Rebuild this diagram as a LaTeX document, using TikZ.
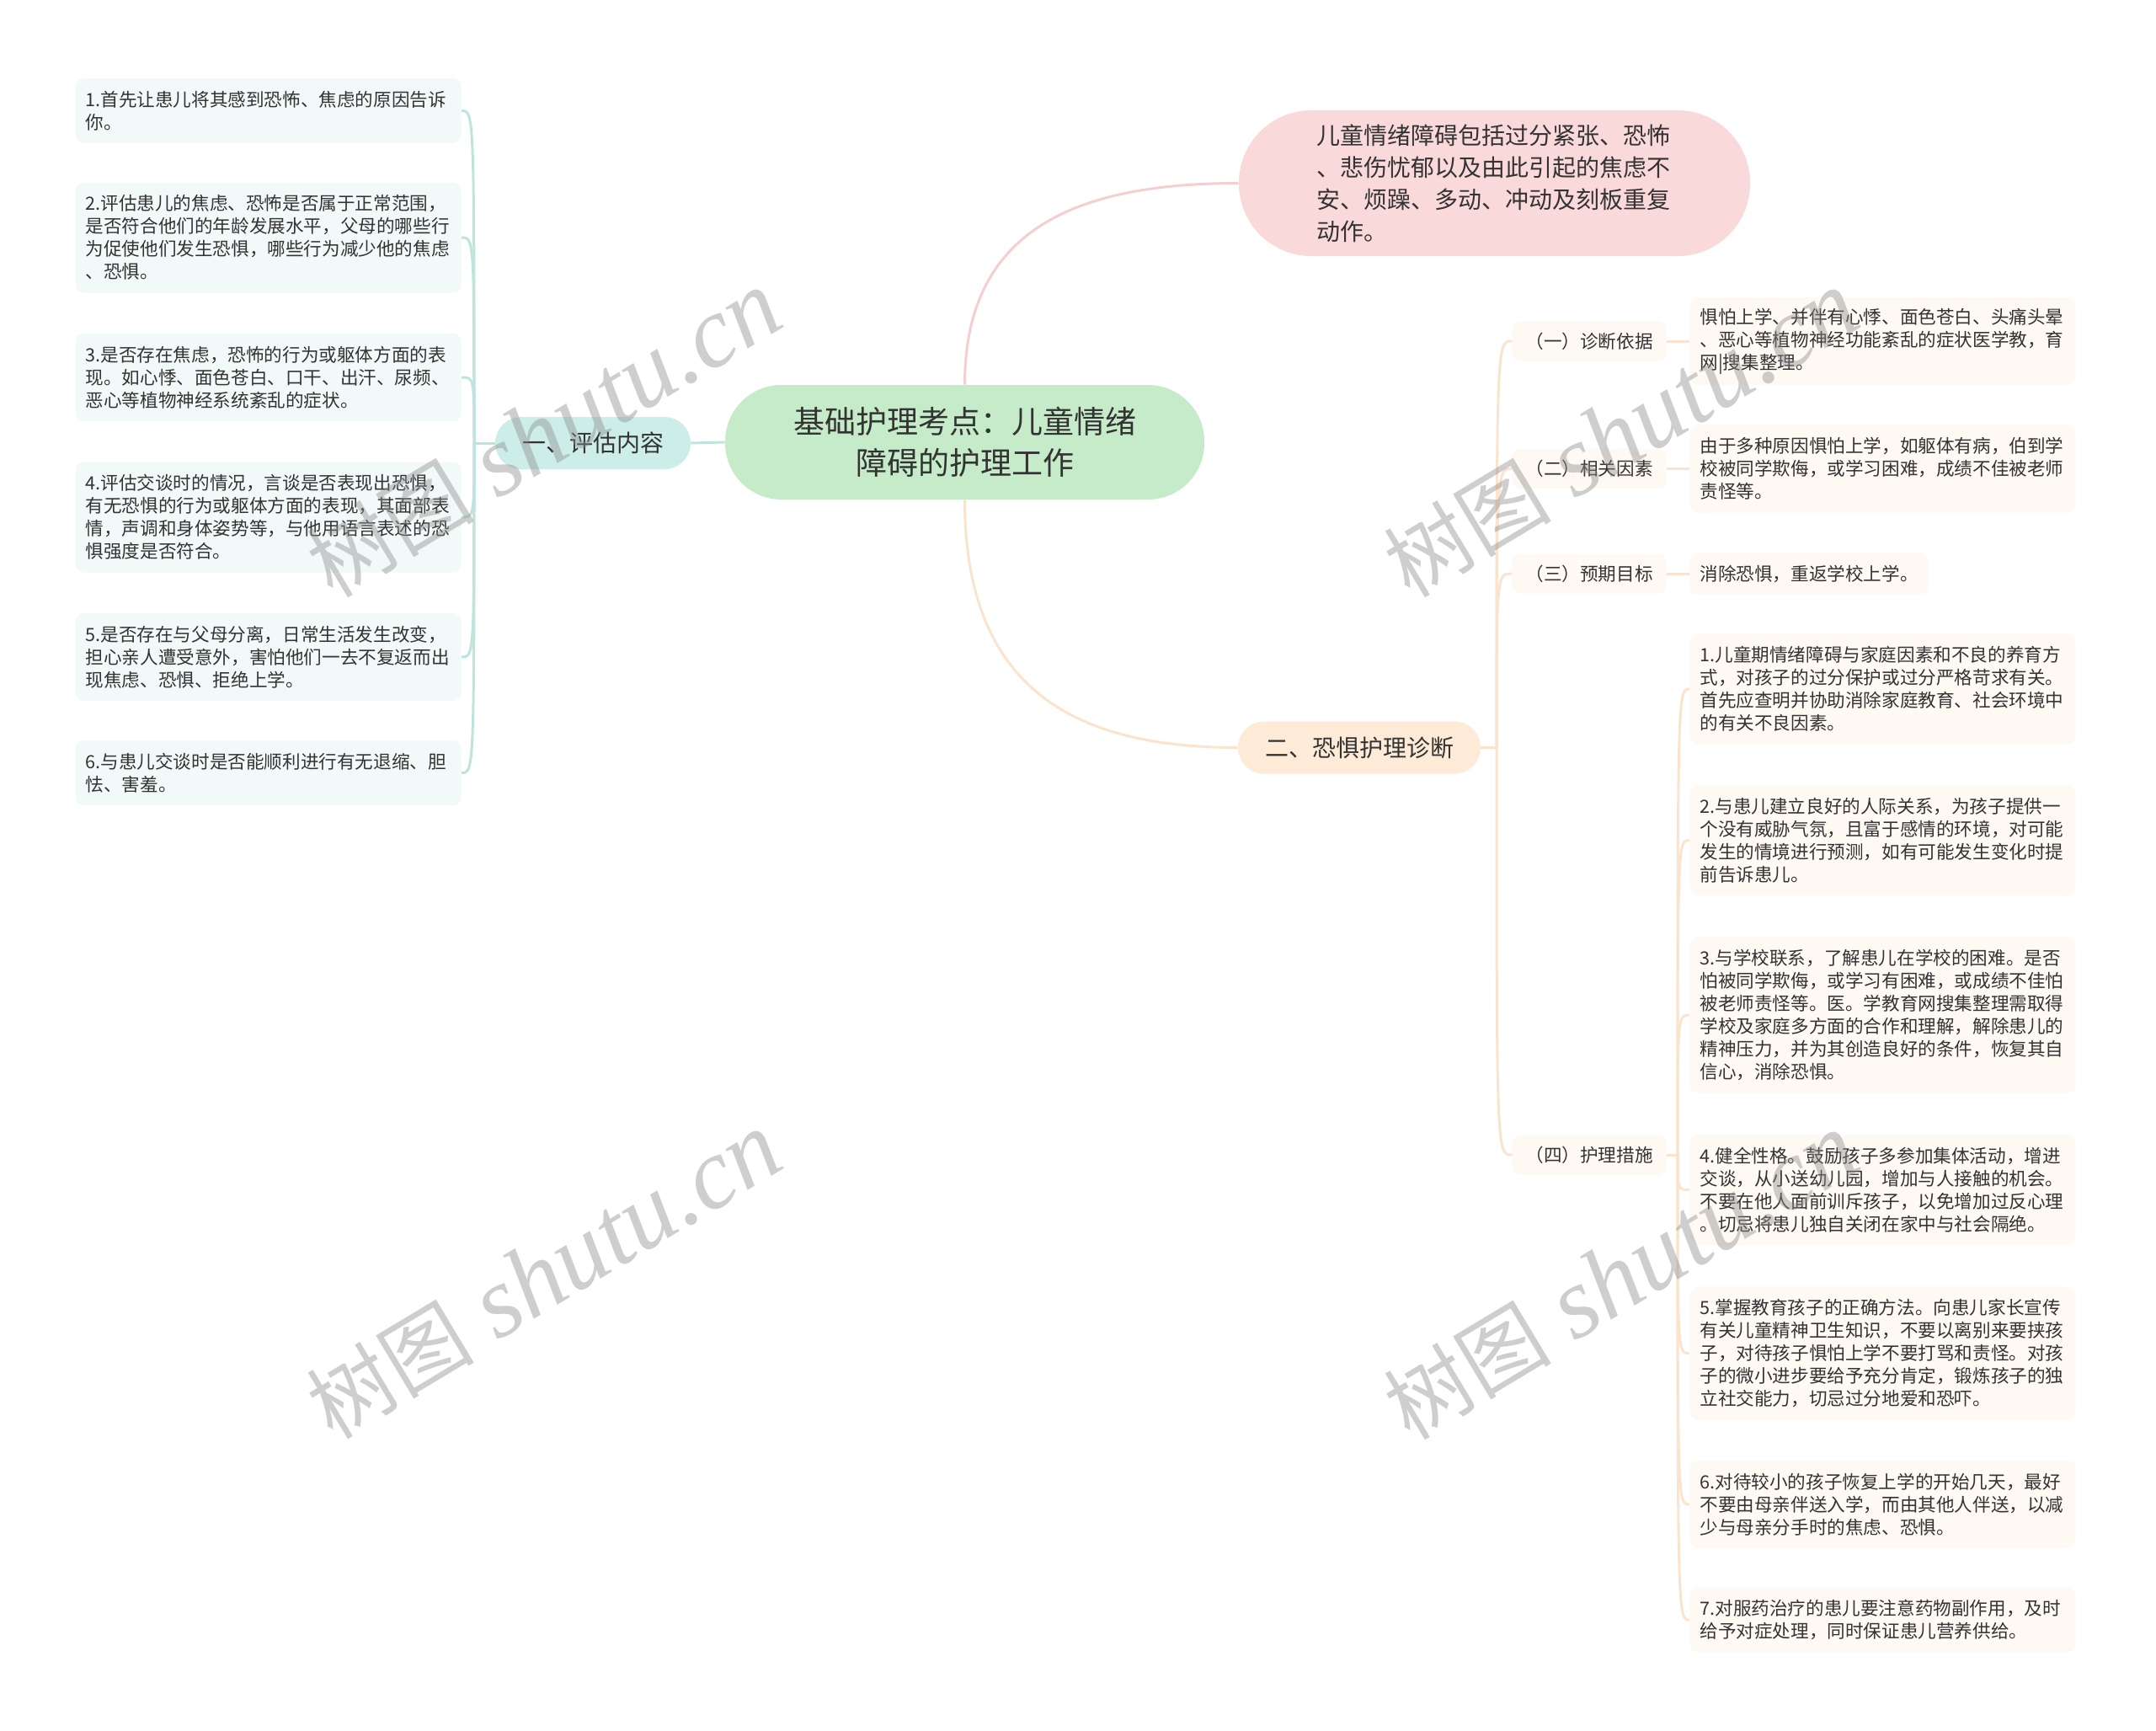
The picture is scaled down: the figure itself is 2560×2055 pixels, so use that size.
\documentclass[tikz,border=0pt]{standalone}
\usepackage{fontspec}
\setmainfont{Noto Sans CJK SC}
\newfontfamily\wmlatin{Liberation Serif}
\definecolor{txt}{HTML}{333333}
\definecolor{rootfill}{HTML}{C5EBC8}
\definecolor{tealfill}{HTML}{CDEEE8}
\definecolor{tealleaf}{HTML}{F2FAF9}
\definecolor{tealline}{HTML}{BDE5DE}
\definecolor{pinkfill}{HTML}{FAD9DA}
\definecolor{pinkline}{HTML}{F5CFD0}
\definecolor{peachfill}{HTML}{FDEBD8}
\definecolor{peachleaf}{HTML}{FEF9F3}
\definecolor{peachline}{HTML}{FBE4CD}
\newcommand\leaffont{\fontsize{10.8pt}{13.5pt}\selectfont}
\newcommand\wmtext{{\fontsize{50pt}{50pt}\selectfont 树图}\hspace{14pt}{\wmlatin\itshape\fontsize{60pt}{60pt}\selectfont shutu.cn}}
\begin{document}
\begin{tikzpicture}[x=0.5pt,y=-0.5pt,
  every node/.style={text=txt},
  leafL/.style={fill=tealleaf, rounded corners=5pt, inner xsep=6pt, inner ysep=1pt, font=\leaffont, align=left, text width=217pt, anchor=east},
  leafR/.style={fill=peachleaf, rounded corners=5pt, inner xsep=6pt, inner ysep=1pt, font=\leaffont, align=left, text width=217pt, anchor=west},
  leafS/.style={fill=peachleaf, rounded corners=5pt, inner xsep=6pt, inner ysep=1pt, font=\leaffont, anchor=west},
  nl/.style={minimum height={(#1-1)*13.5pt+25pt}},
  labbox/.style={fill=peachleaf, rounded corners=5pt, inner xsep=8pt, inner ysep=1pt, minimum height=23.5pt, font=\leaffont},
  rootbox/.style={fill=rootfill, rounded corners=33.5pt, minimum width=284.5pt, minimum height=68pt, inner sep=0pt, align=center, font=\fontsize{18.5pt}{24.5pt}\selectfont},
  pinkbox/.style={fill=pinkfill, rounded corners=43pt, minimum width=303.5pt, minimum height=86.5pt, inner sep=0pt, align=left, text width=211pt, font=\fontsize{14pt}{19pt}\selectfont},
  branchA/.style={fill=tealfill, rounded corners=15.5pt, minimum width=116pt, minimum height=31pt, inner sep=0pt, font=\fontsize{14pt}{14pt}\selectfont},
  branchB/.style={fill=peachfill, rounded corners=15.5pt, minimum width=144pt, minimum height=31pt, inner sep=0pt, font=\fontsize{14pt}{14pt}\selectfont},
  tl/.style={draw=tealline, line width=1.5pt},
  pkl/.style={draw=pinkline, line width=1.5pt},
  pcl/.style={draw=peachline, line width=1.5pt},
  wmk/.style={text=black!45, text opacity=0.42, inner sep=0pt, rotate=31}
]
\useasboundingbox[fill=white] (0,0) rectangle (2560,2055);

% central and main branches
\node[rootbox] (root) at (1145.5,525) {基础护理考点：儿童情绪\\障碍的护理工作};
\node[branchA] (b1) at (704,526) {一、评估内容};
\node[pinkbox] (pk) at (1774.5,217.5) {儿童情绪障碍包括过分紧张、恐怖\\、悲伤忧郁以及由此引起的焦虑不\\安、烦躁、多动、冲动及刻板重复\\动作。};
\node[branchB] (b2) at (1614,887.5) {二、恐惧护理诊断};

% left leaves
\node[leafL, nl=2] (a1) at (548,131.5) {1.首先让患儿将其感到恐怖、焦虑的原因告诉\\你。};
\node[leafL, nl=4] (a2) at (548,282) {2.评估患儿的焦虑、恐怖是否属于正常范围，\\是否符合他们的年龄发展水平，父母的哪些行\\为促使他们发生恐惧，哪些行为减少他的焦虑\\、恐惧。};
\node[leafL, nl=3] (a3) at (548,448) {3.是否存在焦虑，恐怖的行为或躯体方面的表\\现。如心悸、面色苍白、口干、出汗、尿频、\\恶心等植物神经系统紊乱的症状。};
\node[leafL, nl=4] (a4) at (548,614) {4.评估交谈时的情况，言谈是否表现出恐惧，\\有无恐惧的行为或躯体方面的表现，其面部表\\情，声调和身体姿势等，与他用语言表述的恐\\惧强度是否符合。};
\node[leafL, nl=3] (a5) at (548,780) {5.是否存在与父母分离，日常生活发生改变，\\担心亲人遭受意外，害怕他们一去不复返而出\\现焦虑、恐惧、拒绝上学。};
\node[leafL, nl=2] (a6) at (548,917.5) {6.与患儿交谈时是否能顺利进行有无退缩、胆\\怯、害羞。};

% right labels
\node[labbox] (l1) at (1887,405) {（一）诊断依据};
\node[labbox] (l2) at (1887,556.5) {（二）相关因素};
\node[labbox] (l3) at (1887,681) {（三）预期目标};
\node[labbox] (l4) at (1887,1371) {（四）护理措施};

% right leaves
\node[leafR, nl=3] (r1) at (2006,405) {惧怕上学、并伴有心悸、面色苍白、头痛头晕\\、恶心等植物神经功能紊乱的症状医学教，育\\网|搜集整理。};
\node[leafR, nl=3] (r2) at (2006,556.5) {由于多种原因惧怕上学，如躯体有病，伯到学\\校被同学欺侮，或学习困难，成绩不佳被老师\\责怪等。};
\node[leafS, nl=1] (r3) at (2006,681) {消除恐惧，重返学校上学。};
\node[leafR, nl=4] (s1) at (2006,818) {1.儿童期情绪障碍与家庭因素和不良的养育方\\式，对孩子的过分保护或过分严格苛求有关。\\首先应查明并协助消除家庭教育、社会环境中\\的有关不良因素。};
\node[leafR, nl=4] (s2) at (2006,997.5) {2.与患儿建立良好的人际关系，为孩子提供一\\个没有威胁气氛，且富于感情的环境，对可能\\发生的情境进行预测，如有可能发生变化时提\\前告诉患儿。};
\node[leafR, nl=6] (s3) at (2006,1205) {3.与学校联系，了解患儿在学校的困难。是否\\怕被同学欺侮，或学习有困难，或成绩不佳怕\\被老师责怪等。医。学教育网搜集整理需取得\\学校及家庭多方面的合作和理解，解除患儿的\\精神压力，并为其创造良好的条件，恢复其自\\信心，消除恐惧。};
\node[leafR, nl=4] (s4) at (2006,1412.5) {4.健全性格。鼓励孩子多参加集体活动，增进\\交谈，从小送幼儿园，增加与人接触的机会。\\不要在他人面前训斥孩子，以免增加过反心理\\。切忌将患儿独自关闭在家中与社会隔绝。};
\node[leafR, nl=5] (s5) at (2006,1606.7) {5.掌握教育孩子的正确方法。向患儿家长宣传\\有关儿童精神卫生知识，不要以离别来要挟孩\\子，对待孩子惧怕上学不要打骂和责怪。对孩\\子的微小进步要给予充分肯定，锻炼孩子的独\\立社交能力，切忌过分地爱和恐吓。};
\node[leafR, nl=3] (s6) at (2006,1786) {6.对待较小的孩子恢复上学的开始几天，最好\\不要由母亲伴送入学，而由其他人伴送，以减\\少与母亲分手时的焦虑、恐惧。};
\node[leafR, nl=2] (s7) at (2006,1923) {7.对服药治疗的患儿要注意药物副作用，及时\\给予对症处理，同时保证患儿营养供给。};

% junctions
\coordinate (jL) at (563,526);
\coordinate (jR) at (1777,887.5);
\coordinate (j4) at (1992,1371);

% connectors
\draw[tl] (root.west) -- (b1.east);
\draw[tl] (b1.west) -- (jL);
\foreach \n in {a1,a2,a3,a4,a5,a6} {
  \draw[tl] (jL) .. controls (jL |- \n.east) .. (\n.east);
}
\draw[pkl] (root.north) .. controls +(0,-180) and +(-200,0) .. (pk.west);
\draw[pcl] (root.south) .. controls +(0,220) and +(-200,0) .. (b2.west);
\draw[pcl] (b2.east) -- (jR);
\foreach \n in {l1,l2,l3,l4} {
  \draw[pcl] (jR) .. controls (jR |- \n.west) .. (\n.west);
}
\draw[pcl] (l1.east) -- (r1.west);
\draw[pcl] (l2.east) -- (r2.west);
\draw[pcl] (l3.east) -- (r3.west);
\draw[pcl] (l4.east) -- (j4);
\foreach \n in {s1,s2,s3,s4,s5,s6,s7} {
  \draw[pcl] (j4) .. controls (j4 |- \n.west) .. (\n.west);
}

% watermarks
\node[wmk] (w1) at (646,516) {\wmtext};
\node[wmk] (w2) at (646,1515) {\wmtext};
\node[wmk] (w3) at (1925,516) {\wmtext};
\node[wmk] (w4) at (1925,1516) {\wmtext};
\end{tikzpicture}
\end{document}
